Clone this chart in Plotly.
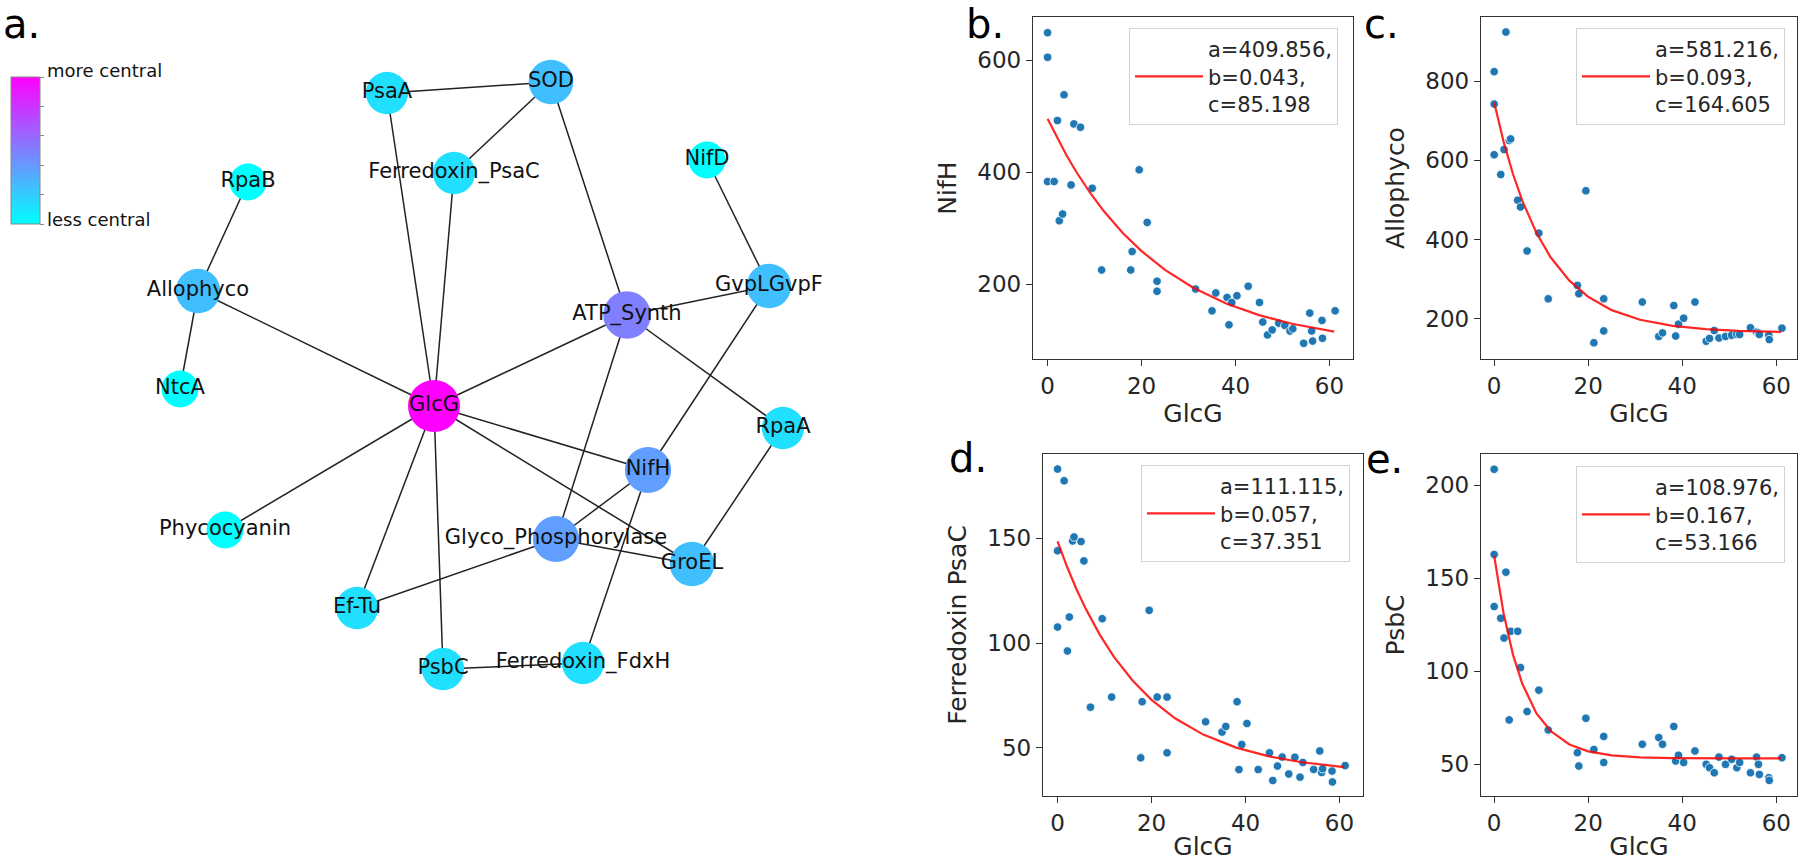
import plotly.graph_objects as go

W, H = 1800, 861
FONT = "DejaVu Sans"

# ---------------- network data (panel a) ----------------
NODES = ["PsaA", "SOD", "Ferredoxin_PsaC", "NifD", "RpaB", "Allophyco", "GvpLGvpF",
         "ATP_Synth", "NtcA", "GlcG", "RpaA", "NifH", "Glyco_Phosphorylase", "GroEL",
         "Phycocyanin", "Ef-Tu", "PsbC", "Ferredoxin_FdxH"]
NODE_X = [387, 551, 454, 707, 248, 198, 769, 627, 180, 434, 783, 648, 556, 692, 225, 357, 443, 583]
NODE_Y = [93, 82, 173, 160, 182, 291, 286, 315, 389, 406, 428, 470, 539, 564, 530, 608, 669, 663]
CENTRALITY = [0.125, 0.25, 0.125, 0.0, 0.0, 0.25, 0.25, 0.5, 0.0, 1.0, 0.125, 0.375, 0.375,
              0.25, 0.0, 0.125, 0.125, 0.125]
EDGES = [("PsaA", "SOD"), ("SOD", "Ferredoxin_PsaC"), ("SOD", "ATP_Synth"), ("PsaA", "GlcG"),
         ("Ferredoxin_PsaC", "GlcG"), ("RpaB", "Allophyco"), ("Allophyco", "NtcA"),
         ("Allophyco", "GlcG"), ("NifD", "GvpLGvpF"), ("GvpLGvpF", "ATP_Synth"),
         ("GvpLGvpF", "NifH"), ("ATP_Synth", "RpaA"), ("ATP_Synth", "GlcG"),
         ("ATP_Synth", "Glyco_Phosphorylase"), ("GlcG", "NifH"), ("GlcG", "GroEL"),
         ("GlcG", "Phycocyanin"), ("GlcG", "Ef-Tu"), ("GlcG", "PsbC"),
         ("NifH", "Glyco_Phosphorylase"), ("NifH", "Ferredoxin_FdxH"),
         ("Glyco_Phosphorylase", "GroEL"), ("Glyco_Phosphorylase", "Ef-Tu"),
         ("RpaA", "GroEL"), ("PsbC", "Ferredoxin_FdxH")]

# ---------------- scatter data (panels b-e) ----------------
GLCG = [0, 0, 0, 1.4, 2.1, 2.5, 3.2, 3.5, 5.0, 5.6, 7.0, 9.5, 11.5, 17.7, 18.0, 19.5, 21.2,
        23.3, 23.3, 31.5, 35.0, 35.8, 38.2, 38.6, 39.2, 40.3, 42.7, 45.1, 45.8, 46.8, 47.8,
        49.2, 50.5, 51.6, 52.2, 54.5, 55.8, 56.2, 56.4, 58.4, 58.5, 61.2]
NIFH = [649, 605, 383, 383, 492, 313, 325, 538, 377, 486, 480, 371, 225, 225, 258, 404, 310,
        205, 187, 191, 152, 184, 176, 127, 167, 179, 196, 167, 132, 109, 118,
        130, 126, 116, 120, 94, 148, 116, 98, 135, 103, 152]
ALLOPHYCO = [824, 742, 614, 564, 627, 924, 650, 654, 499, 482, 371, 416, 250, 284, 263, 523, 139,
             250, 169, 242, 155, 164, 233, 156, 186, 201, 242, 143, 150, 170, 151,
             155, 158, 160, 160, 177, 166, 164, 160, 158, 147, 176]
FERREDOXIN_PSAC = [183, 144, 107.6, 177.4, 96.2, 112.4, 148.7, 150.6, 148.4, 139.2, 69.4, 111.6,
                   74.2, 45.2, 72, 115.6, 74.2, 74.2, 47.6, 62.4, 57.5, 60.2, 72, 39.6, 51.6,
                   61.6, 39.6, 47.6, 34.4, 41.3, 45.6, 37.5, 45.5, 36, 43, 39.7, 48.5, 38.2,
                   40, 38.9, 33.7, 41.5]
PSBC = [208.6, 162.8, 134.8, 128.5, 117.9, 153.3, 73.9, 121.5, 121.5, 102, 78.4, 89.9, 68.5,
        56.3, 49.1, 74.8, 58, 65, 51, 60.8, 64.4, 60.8, 70.4, 51.8, 54.9, 51, 57.2, 50, 48.2,
        45.5, 53.9, 50, 52.7, 48.2, 51, 45.5, 53.9, 50, 44.6, 42.8, 41.4, 53.6]

# fitted curves a*exp(-b*x)+c
FIT_X = [0, 2, 4, 6, 9, 12, 16, 20, 25, 31, 38, 45, 52, 61]
FIT_NIFH = [495.1, 461.3, 430.3, 401.9, 363.5, 329.8, 291.2, 258.7, 225.1, 193.3, 165.2, 144.4, 129.0, 115.0]
FIT_ALLOPHYCO = [745.8, 647.2, 565.3, 497.3, 416.3, 355.0, 295.8, 255.1, 221.4, 197.1, 181.6, 173.5, 169.2, 166.6]
FIT_PSAC = [148.5, 136.5, 125.8, 116.3, 103.9, 93.4, 82.0, 72.9, 64.1, 56.3, 50.1, 45.9, 43.1, 40.8]
FIT_PSBC = [162.1, 131.2, 109.0, 93.2, 77.4, 67.9, 60.7, 57.0, 54.8, 53.8, 53.4, 53.2, 53.2, 53.2]

LEGEND_TEXT = ["a=409.856,<br>b=0.043,<br>c=85.198",
               "a=581.216,<br>b=0.093,<br>c=164.605",
               "a=111.115,<br>b=0.057,<br>c=37.351",
               "a=108.976,<br>b=0.167,<br>c=53.166"]
Y_TITLES = ["NifH", "Allophyco", "Ferredoxin PsaC", "PsbC"]

fig = go.Figure()

# ---------------- network ----------------
idx = {n: i for i, n in enumerate(NODES)}
ex, ey = [], []
for a, b in EDGES:
    ex += [NODE_X[idx[a]], NODE_X[idx[b]], None]
    ey += [NODE_Y[idx[a]], NODE_Y[idx[b]], None]
fig.add_trace(go.Scatter(x=ex, y=ey, mode="lines", line=dict(color="#222222", width=1.5),
                         hoverinfo="skip", showlegend=False, xaxis="x", yaxis="y"))

sizes = [37 + 15 * (c ** 0.5) for c in CENTRALITY]
fig.add_trace(go.Scatter(
    x=NODE_X, y=NODE_Y, mode="markers+text", text=NODES, textposition="middle center",
    textfont=dict(family=FONT, size=21, color="#111111"),
    marker=dict(size=sizes, color=CENTRALITY, cmin=0, cmax=1,
                colorscale=[[0, "rgb(0,255,255)"], [1, "rgb(255,0,255)"]],
                line=dict(width=0), opacity=1,
                showscale=True,
                colorbar=dict(x=11 / W, xanchor="left", y=1 - 150.5 / H, yanchor="middle",
                              len=147 / H, lenmode="fraction", thickness=29,
                              thicknessmode="pixels", xpad=0, ypad=0, outlinewidth=1,
                              outlinecolor="#888888", tickvals=[0, 0.2, 0.4, 0.6, 0.8, 1],
                              showticklabels=False, ticks="outside", ticklen=4,
                              tickcolor="#888888")),
    showlegend=False, xaxis="x", yaxis="y", hoverinfo="text"))

# ---------------- scatter panels ----------------
panels = [
    dict(vals=NIFH, fit=FIT_NIFH, px=(1033, 1353), py=(17, 359), xr=[-3.1, 65.0], yr=[66, 677],
         yt=[200, 400, 600], leg=(1338, 28)),
    dict(vals=ALLOPHYCO, fit=FIT_ALLOPHYCO, px=(1481, 1797), py=(17, 359), xr=[-2.8, 64.4],
         yr=[98, 962], yt=[200, 400, 600, 800], leg=(1785, 28)),
    dict(vals=FERREDOXIN_PSAC, fit=FIT_PSAC, px=(1043, 1363), py=(454, 796), xr=[-3.1, 65.0],
         yr=[27, 190.2], yt=[50, 100, 150], leg=(1350, 465)),
    dict(vals=PSBC, fit=FIT_PSBC, px=(1481, 1797), py=(454, 796), xr=[-2.8, 64.4],
         yr=[33, 216.8], yt=[50, 100, 150, 200], leg=(1785, 466)),
]

layout_axes = {}
for i, p in enumerate(panels):
    n = i + 2
    xa, ya = f"x{n}", f"y{n}"
    lg = "legend" if i == 0 else f"legend{i + 1}"
    fig.add_trace(go.Scatter(x=GLCG, y=p["vals"], mode="markers",
                             marker=dict(size=8.5, color="#1f77b4",
                                         line=dict(color="white", width=0.8)),
                             showlegend=False, xaxis=xa, yaxis=ya))
    fig.add_trace(go.Scatter(x=FIT_X, y=p["fit"], mode="lines",
                             line=dict(color="rgba(255,0,0,0.85)", width=2.2),
                             name=LEGEND_TEXT[i], showlegend=True, legend=lg,
                             xaxis=xa, yaxis=ya))
    common = dict(showline=True, mirror=True, linecolor="#333333", linewidth=1.3,
                  ticks="outside", ticklen=6, tickwidth=1.3, tickcolor="#333333",
                  showgrid=False, zeroline=False,
                  tickfont=dict(family=FONT, size=23, color="#262626"))
    layout_axes[f"xaxis{n}"] = dict(
        domain=[p["px"][0] / W, p["px"][1] / W], anchor=ya, range=p["xr"],
        tickvals=[0, 20, 40, 60],
        title=dict(text="GlcG", font=dict(family=FONT, size=25, color="#262626"), standoff=5),
        **common)
    layout_axes[f"yaxis{n}"] = dict(
        domain=[1 - p["py"][1] / H, 1 - p["py"][0] / H], anchor=xa, range=p["yr"],
        tickvals=p["yt"],
        title=dict(text=Y_TITLES[i], font=dict(family=FONT, size=25, color="#262626"),
                   standoff=13),
        **common)
    layout_axes[lg] = dict(x=p["leg"][0] / W, y=1 - p["leg"][1] / H, xanchor="right",
                           yanchor="top", bgcolor="rgba(255,255,255,0.85)",
                           bordercolor="#d3d3d3", borderwidth=1, itemwidth=68,
                           font=dict(family=FONT, size=21, color="#262626"),
                           valign="middle", tracegroupgap=0)

annotations = []
letters = [("a.", 2, 0), ("b.", 965, 0), ("c.", 1363, 0), ("d.", 948, 434), ("e.", 1365, 435)]
for t, x0, y0 in letters:
    annotations.append(dict(text=t, x=x0 / W, y=1 - y0 / H, xref="paper", yref="paper",
                            xanchor="left", yanchor="top", showarrow=False, borderpad=0,
                            font=dict(family=FONT, size=40, color="#000000")))
for t, y0 in [("more central", 71), ("less central", 219)]:
    annotations.append(dict(text=t, x=45 / W, y=1 - y0 / H, xref="paper", yref="paper",
                            xanchor="left", yanchor="middle", showarrow=False,
                            font=dict(family=FONT, size=18, color="#111111")))

fig.update_layout(
    width=W, height=H, margin=dict(l=0, r=0, t=0, b=0),
    paper_bgcolor="white", plot_bgcolor="white",
    font=dict(family=FONT, color="#262626"),
    xaxis=dict(domain=[0, 850 / W], range=[0, 850], visible=False, fixedrange=True),
    yaxis=dict(domain=[0, 1], range=[H, 0], visible=False, fixedrange=True),
    annotations=annotations,
    **layout_axes,
)

fig.write_html("out.html",
               config={"displayModeBar": False},
               post_script="document.body.style.margin='0px';"
                           "document.body.style.overflow='hidden';")
